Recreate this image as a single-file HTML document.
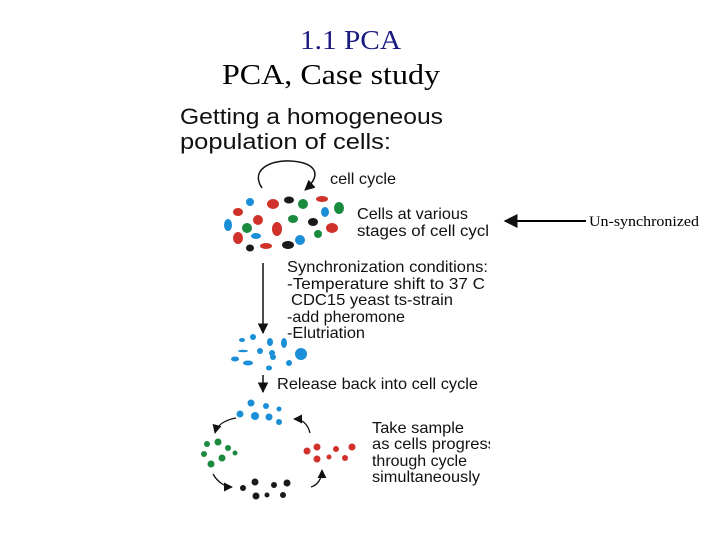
<!DOCTYPE html>
<html><head><meta charset="utf-8"><style>
body{margin:0;background:#fff}
svg{display:block}
.s{font-family:"Liberation Sans",sans-serif;fill:#111}
.t{font-family:"Liberation Serif",serif}
</style></head><body>
<svg width="720" height="540" viewBox="0 0 720 540" xmlns="http://www.w3.org/2000/svg">
<defs><marker id="a" viewBox="0 0 10 10" refX="9" refY="5" markerWidth="7" markerHeight="7" orient="auto"><path d="M0,0L10,5L0,10z" fill="#111"/></marker></defs>
<text x="300" y="49" class="t" font-size="27" fill="#1a1a80" textLength="101" lengthAdjust="spacingAndGlyphs">1.1 PCA</text>
<text x="222" y="84" class="t" font-size="29" fill="#000" textLength="218" lengthAdjust="spacingAndGlyphs">PCA, Case study</text>
<text x="180" y="124" class="s" font-size="22.5" textLength="263" lengthAdjust="spacingAndGlyphs">Getting a homogeneous</text>
<text x="180" y="149" class="s" font-size="22.5" textLength="211" lengthAdjust="spacingAndGlyphs">population of cells:</text>
<text x="330" y="184" class="s" font-size="16" textLength="66" lengthAdjust="spacingAndGlyphs">cell cycle</text>
<text x="357" y="219" class="s" font-size="16" textLength="111" lengthAdjust="spacingAndGlyphs">Cells at various</text>
<text x="357" y="236" class="s" font-size="16" textLength="132" lengthAdjust="spacingAndGlyphs">stages of cell cycl</text>
<text x="287" y="272" class="s" font-size="16" textLength="201" lengthAdjust="spacingAndGlyphs">Synchronization conditions:</text>
<text x="287" y="289" class="s" font-size="16" textLength="198" lengthAdjust="spacingAndGlyphs">-Temperature shift to 37 C</text>
<text x="291" y="305" class="s" font-size="16" textLength="162" lengthAdjust="spacingAndGlyphs">CDC15 yeast ts-strain</text>
<text x="287" y="322" class="s" font-size="16" textLength="118" lengthAdjust="spacingAndGlyphs">-add pheromone</text>
<text x="287" y="338" class="s" font-size="16" textLength="78" lengthAdjust="spacingAndGlyphs">-Elutriation</text>
<text x="277" y="389" class="s" font-size="16" textLength="201" lengthAdjust="spacingAndGlyphs">Release back into cell cycle</text>
<text x="372" y="433" class="s" font-size="16" textLength="92" lengthAdjust="spacingAndGlyphs">Take sample</text>
<text x="372" y="449" class="s" font-size="16" textLength="124" lengthAdjust="spacingAndGlyphs">as cells progress</text>
<text x="372" y="466" class="s" font-size="16" textLength="95" lengthAdjust="spacingAndGlyphs">through cycle</text>
<text x="372" y="482" class="s" font-size="16" textLength="108" lengthAdjust="spacingAndGlyphs">simultaneously</text>
<rect x="490" y="200" width="10" height="300" fill="#fff"/>
<text x="589" y="226" class="t" font-size="15" fill="#000" textLength="110" lengthAdjust="spacingAndGlyphs">Un-synchronized</text>
<line x1="586" y1="221" x2="505" y2="221" stroke="#000" stroke-width="2" marker-end="url(#a)"/>
<path d="M262,188 C250,170 270,160 290,161 C312,162 325,172 305,190" fill="none" stroke="#111" stroke-width="1.5" marker-end="url(#a)"/>
<line x1="263" y1="263" x2="263" y2="333" stroke="#111" stroke-width="1.5" marker-end="url(#a)"/>
<line x1="263" y1="375" x2="263" y2="392" stroke="#111" stroke-width="1.5" marker-end="url(#a)"/>
<path d="M236,418 C225,420 217,425 215,433" fill="none" stroke="#111" stroke-width="1.3" marker-end="url(#a)"/>
<path d="M213,474 C218,483 226,487 232,487" fill="none" stroke="#111" stroke-width="1.3" marker-end="url(#a)"/>
<path d="M311,487 C318,485 322,478 322,470" fill="none" stroke="#111" stroke-width="1.3" marker-end="url(#a)"/>
<path d="M310,433 C308,424 302,419 294,419" fill="none" stroke="#111" stroke-width="1.3" marker-end="url(#a)"/>
<g fill="#d0312a">
<ellipse cx="273" cy="204" rx="6" ry="5"/><ellipse cx="322" cy="199" rx="6" ry="3"/><ellipse cx="238" cy="212" rx="5" ry="4"/><ellipse cx="258" cy="220" rx="5" ry="5"/><ellipse cx="277" cy="229" rx="5" ry="7"/><ellipse cx="332" cy="228" rx="6" ry="5"/><ellipse cx="238" cy="238" rx="5" ry="6"/><ellipse cx="266" cy="246" rx="6" ry="3"/>
<circle cx="317" cy="447" r="3.5"/><circle cx="307" cy="451" r="3.5"/><circle cx="336" cy="449" r="3"/><circle cx="352" cy="447" r="3.5"/><circle cx="317" cy="459" r="3.5"/><circle cx="329" cy="457" r="2.5"/><circle cx="345" cy="458" r="3"/>
</g>
<g fill="#1a8fd8">
<ellipse cx="250" cy="202" rx="4" ry="4"/><ellipse cx="325" cy="212" rx="4" ry="5"/><ellipse cx="228" cy="225" rx="4" ry="6"/><ellipse cx="256" cy="236" rx="5" ry="3"/><ellipse cx="300" cy="240" rx="5" ry="5"/>
<ellipse cx="242" cy="340" rx="3" ry="2"/><circle cx="253" cy="337" r="3"/><ellipse cx="270" cy="342" rx="3" ry="4"/><ellipse cx="284" cy="343" rx="3" ry="5"/><ellipse cx="243" cy="351" rx="5" ry="1.2"/><circle cx="260" cy="351" r="3"/><circle cx="272" cy="353" r="3"/><circle cx="301" cy="354" r="6"/><ellipse cx="235" cy="359" rx="4" ry="2.5"/><ellipse cx="248" cy="363" rx="5" ry="2.5"/><circle cx="273" cy="357" r="3"/><circle cx="289" cy="363" r="3"/><ellipse cx="269" cy="368" rx="3" ry="2.5"/>
<circle cx="251" cy="403" r="3.5"/><circle cx="266" cy="406" r="3"/><circle cx="279" cy="409" r="2.5"/><circle cx="240" cy="414" r="3.5"/><circle cx="255" cy="416" r="4"/><circle cx="269" cy="417" r="3.5"/><circle cx="279" cy="422" r="3"/>
</g>
<g fill="#1a8a3e">
<ellipse cx="303" cy="204" rx="5" ry="5"/><ellipse cx="339" cy="208" rx="5" ry="6"/><ellipse cx="293" cy="219" rx="5" ry="4"/><ellipse cx="247" cy="228" rx="5" ry="5"/><ellipse cx="318" cy="234" rx="4" ry="4"/>
<circle cx="218" cy="442" r="3.5"/><circle cx="207" cy="444" r="3"/><circle cx="228" cy="448" r="3"/><circle cx="235" cy="453" r="2.5"/><circle cx="204" cy="454" r="3"/><circle cx="222" cy="458" r="3.5"/><circle cx="211" cy="464" r="3.5"/>
</g>
<g fill="#1a1a1a">
<ellipse cx="289" cy="200" rx="5" ry="3.5"/><ellipse cx="313" cy="222" rx="5" ry="4"/><ellipse cx="250" cy="248" rx="4" ry="3.5"/><ellipse cx="288" cy="245" rx="6" ry="4"/>
<circle cx="255" cy="482" r="3.5"/><circle cx="274" cy="485" r="3"/><circle cx="287" cy="483" r="3.5"/><circle cx="243" cy="488" r="3"/><circle cx="256" cy="496" r="3.5"/><circle cx="267" cy="495" r="2.5"/><circle cx="283" cy="495" r="3"/>
</g>
</svg>
</body></html>
